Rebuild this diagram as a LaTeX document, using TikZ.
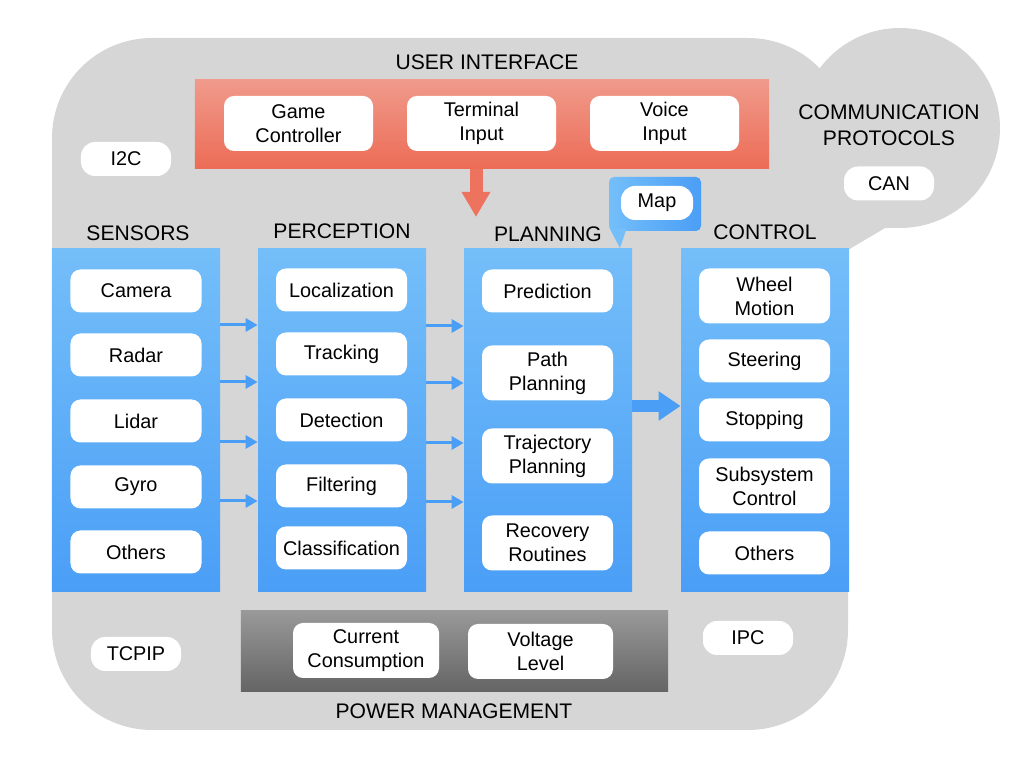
\documentclass[tikz,border=0pt]{standalone}
\usepackage{fontspec}
\setmainfont{Liberation Sans}
\usepackage{tikz}
\usetikzlibrary{positioning,calc,arrows.meta}
\definecolor{bggray}{HTML}{D6D6D6}
\definecolor{bluetop}{HTML}{74BEF9}
\definecolor{bluebot}{HTML}{4A9EF6}
\definecolor{redtop}{HTML}{F09A8B}
\definecolor{redbot}{HTML}{EC6C56}
\definecolor{pwrtop}{HTML}{999999}
\definecolor{pwrbot}{HTML}{646464}
\definecolor{flowblue}{HTML}{4A9EF5}
\definecolor{flowred}{HTML}{EE735F}
\tikzstyle{hdr}= [font=\fontsize{12}{14.7}\selectfont, align=center, inner sep=0pt]
\tikzstyle{itembox}= [fill=white, rounded corners=2mm, align=center, inner sep=0pt, minimum width=26.2mm, minimum height=8.6mm, font=\fontsize{11.3}{13.6}\selectfont]
\tikzstyle{itembox2}= [itembox, minimum height=11mm]
\tikzstyle{pill}= [itembox, minimum width=18mm, minimum height=6.8mm, rounded corners=2.8mm]
\tikzstyle{colbox}= [top color=bluetop, bottom color=bluebot, inner sep=0pt, minimum width=33.6mm, minimum height=68.6mm]
\tikzstyle{flow}= [flowblue, line width=0.6mm, -{Triangle[length=2.4mm,width=2.6mm]}]

\begin{document}
\begin{tikzpicture}[x=0.2mm, y=-0.2mm]
				\useasboundingbox (0,0) rectangle (1024,768);
				% grey background with the protocol cloud
				\fill[bggray, rounded corners=20mm] (52,38) rectangle (848,730);
				\fill[bggray] (900,128) circle[radius=20mm];
				\fill[bggray] (848,250) -- (885,228) -- (900,228) -- (900,128) -- (848,128) -- cycle;
				
				\node[hdr] (comm) at (889,125) {COMMUNICATION\\PROTOCOLS};
				\node[pill] (can) at (889,183.5) {CAN};
				\node[pill] (i2c) at (126,159) {I2C};
				\node[pill] (tcp) at (136,654) {TCPIP};
				\node[pill] (ipc) at (748,638) {IPC};
				
				% user interface
				\node[hdr] (uih) at (487,62) {USER INTERFACE};
				\node[top color=redtop, bottom color=redbot, minimum width=114.8mm, minimum height=17.8mm] (ui) at (482,124.5) {};
				\node[itembox2, minimum width=29.8mm] (u1) at (298.5,123.5) {Game\\Controller};
				\node[itembox2, minimum width=29.8mm] (u2) at (481.5,123.5) {Terminal\\Input};
				\node[itembox2, minimum width=29.8mm] (u3) at (664.5,123.5) {Voice\\Input};
				
				% columns
				\node[hdr] (sensh) at (138,233) {SENSORS};
				\node[hdr] (perch) at (342,231) {PERCEPTION};
				\node[hdr] (planh) at (548,234) {PLANNING};
				\node[hdr] (ctrlh) at (765,232) {CONTROL};
				\node[colbox] (sens) at (136,420.5) {};
				\node[colbox] (perc) at (342,420.5) {};
				\node[colbox] (plan) at (548,420.5) {};
				\node[colbox] (ctrl) at (765,420.5) {};
				
				\node[itembox] (s1) at (136,291) {Camera};
				\node[itembox] (s2) at (136,355) {Radar};
				\node[itembox] (s3) at (136,421) {Lidar};
				\node[itembox] (s4) at (136,487) {Gyro};
				\node[itembox] (s5) at (136,552) {Others};
				
				\node[itembox] (p1) at (341.5,290) {Localization};
				\node[itembox] (p2) at (341.5,354) {Tracking};
				\node[itembox] (p3) at (341.5,420) {Detection};
				\node[itembox] (p4) at (341.5,486) {Filtering};
				\node[itembox] (p5) at (341.5,548) {Classification};
				
				\node[itembox] (l1) at (547.5,291) {Prediction};
				\node[itembox2] (l2) at (547.5,373) {Path\\Planning};
				\node[itembox2] (l3) at (547.5,456) {Trajectory\\Planning};
				\node[itembox2] (l4) at (547.5,543) {Recovery\\Routines};
				
				\node[itembox2] (c1) at (764.5,296) {Wheel\\Motion};
				\node[itembox] (c2) at (764.5,361) {Steering};
				\node[itembox] (c3) at (764.5,420) {Stopping};
				\node[itembox2] (c4) at (764.5,486) {Subsystem\\Control};
				\node[itembox] (c5) at (764.5,553) {Others};
				
				% map callout
				\node[left color=bluetop, right color=bluebot, rounded corners=1mm, minimum width=18.4mm, minimum height=10.8mm] (mapc) at (655,204) {};
				\coordinate (maptip) at (620,248);
				\fill[bluetop] (mapc.south west) ++(1,-3) -- ++(17,0) -- (maptip) -- cycle;
				\node[pill, minimum width=14.4mm] (map) at (657,203) {Map};
				
				% power management
				\node[top color=pwrtop, bottom color=pwrbot, minimum width=85.4mm, minimum height=16.2mm] (pwr) at (454.5,651.5) {};
				\node[itembox2, minimum width=29.2mm] (w1) at (366,650.5) {Current\\Consumption};
				\node[itembox2, minimum width=29mm] (w2) at (540.5,651.5) {Voltage\\Level};
				\node[hdr] (pwrh) at (454,711) {POWER MANAGEMENT};
				
				% arrows
				\foreach \y in {325,382,442,501}
					\draw[flow] (sens.east |- 0,\y) -- (perc.west |- 0,\y);
				\foreach \y in {326,383,443,502}
					\draw[flow] (perc.east |- 0,\y) -- (plan.west |- 0,\y);
				\draw[flowblue, line width=2.4mm, -{Triangle[length=4.4mm,width=5.6mm]}] (plan.east |- 0,406) -- (ctrl.west |- 0,406);
				\coordinate (uitip) at (476,217);
				\draw[flowred, line width=2.6mm, -{Triangle[length=5mm,width=5.4mm]}] (ui.south -| uitip) -- (uitip);
			\end{tikzpicture}
\end{document}
